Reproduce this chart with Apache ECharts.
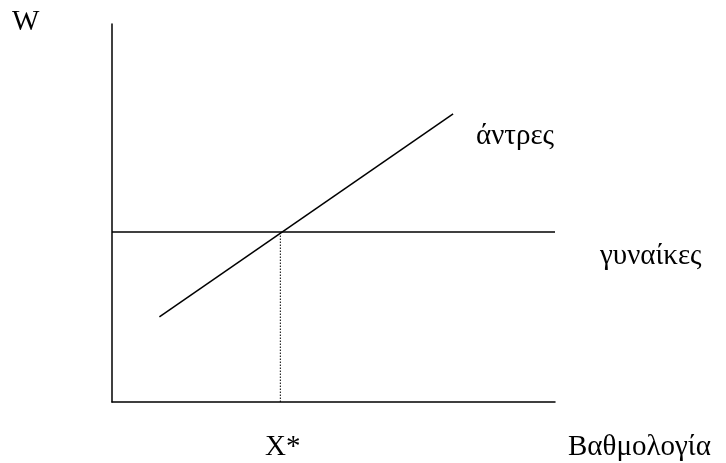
<!DOCTYPE html>
<html>
<head>
<meta charset="utf-8">
<script src="https://cdn.jsdelivr.net/npm/echarts@6/dist/echarts.min.js"></script>
<style>
  html, body { margin: 0; padding: 0; background: #fff; }
  #main { width: 726px; height: 463px; }
</style>
</head>
<body>
<div id="main"></div>
<script>
// τιμές στον άξονα Βαθμολογία (0-10) και W (0-10)
var xRange = [0, 10];
var yRange = [0, 10];

// άντρες: ευθεία με θετική κλίση
var menLine = [[1.07, 2.25], [7.7, 7.62]];
// γυναίκες: σταθερός μισθός
var womenLine = [[0, 4.5], [10, 4.5]];
// X*: σημείο τομής
var xStar = 3.8;
var xStarLine = [[xStar, 0], [xStar, 4.5]];

var labels = {
  yName: 'W',
  xName: 'Βαθμολογία',
  men: 'άντρες',
  women: 'γυναίκες',
  xStar: 'X*'
};

var myChart = echarts.init(document.getElementById('main'));

var textStyle = {
  fontFamily: 'Liberation Serif',
  fontSize: 29,
  fill: '#000'
};

var option = {
  animation: false,
  backgroundColor: '#fff',
  grid: { left: 112, top: 24, width: 443, height: 378 },
  xAxis: {
    type: 'value', min: xRange[0], max: xRange[1],
    axisLine: { lineStyle: { color: '#000', width: 1.5 } },
    axisTick: { show: false },
    axisLabel: { show: false },
    splitLine: { show: false }
  },
  yAxis: {
    type: 'value', min: yRange[0], max: yRange[1],
    axisLine: { show: true, lineStyle: { color: '#000', width: 1.5 } },
    axisTick: { show: false },
    axisLabel: { show: false },
    splitLine: { show: false }
  },
  series: [
    {
      name: labels.men, type: 'line', data: menLine, symbol: 'none',
      lineStyle: { color: '#000', width: 1.5 }
    },
    {
      name: labels.women, type: 'line', data: womenLine, symbol: 'none',
      lineStyle: { color: '#000', width: 1.5 }
    },
    {
      name: labels.xStar, type: 'line', data: xStarLine, symbol: 'none',
      lineStyle: { color: '#000', width: 1, type: [1.5, 1.5] }
    }
  ],
  graphic: [
    { type: 'text', left: 12, top: 8, style: Object.assign({ text: labels.yName }, textStyle) },
    { type: 'text', left: 476, top: 122, style: Object.assign({ text: labels.men }, textStyle) },
    { type: 'text', left: 600, top: 242, style: Object.assign({ text: labels.women }, textStyle) },
    { type: 'text', left: 265, top: 433, style: Object.assign({ text: labels.xStar }, textStyle) },
    { type: 'text', left: 568, top: 433, style: Object.assign({ text: labels.xName }, textStyle) }
  ]
};

myChart.setOption(option);
window.addEventListener('resize', function () {
  myChart.resize();
});
</script>
</body>
</html>
